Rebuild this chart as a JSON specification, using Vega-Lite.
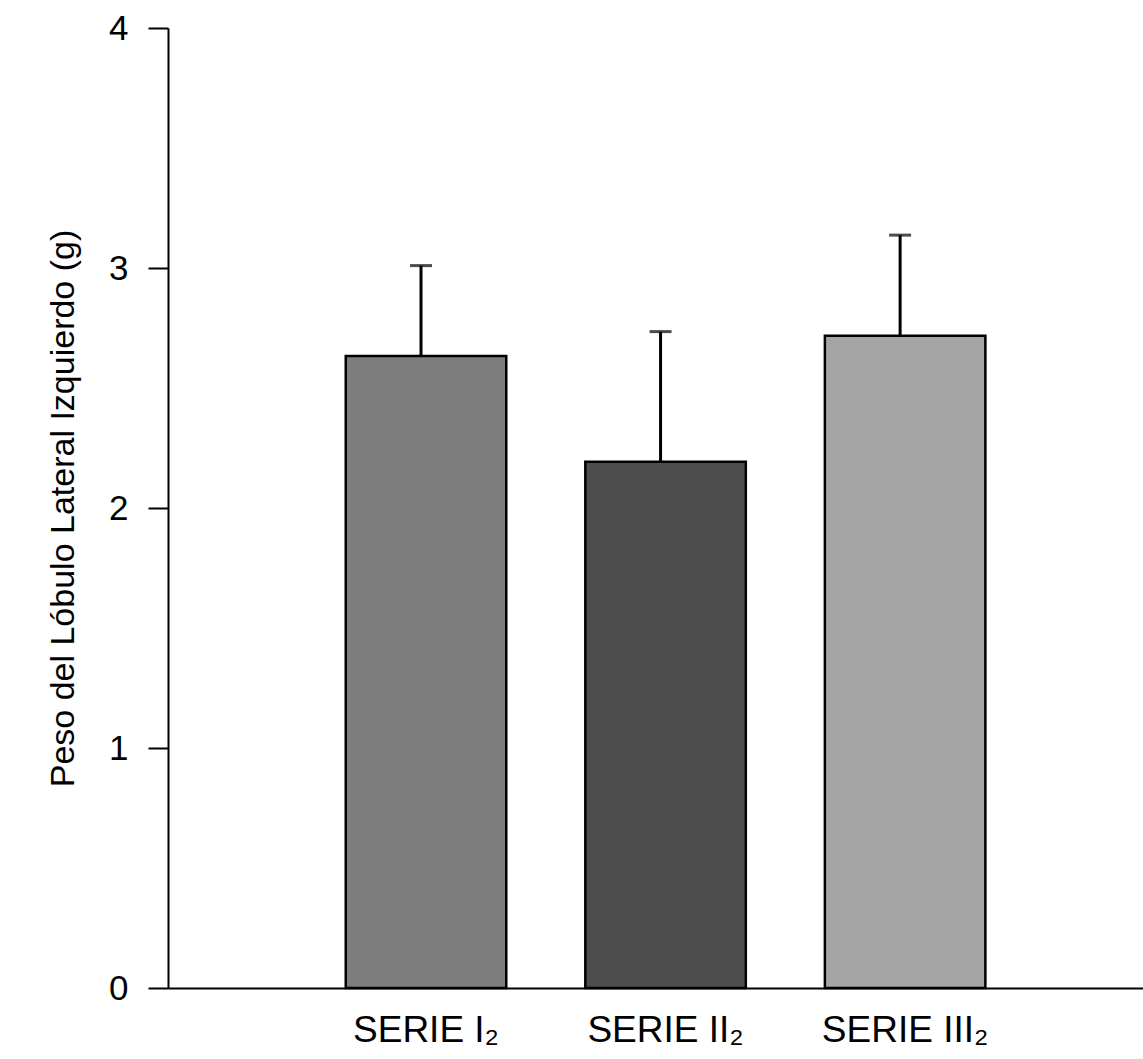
{
  "$schema": "https://vega.github.io/schema/vega-lite/v6.json",
  "width": 975,
  "height": 960,
  "autosize": {"type": "none"},
  "padding": {"left": 168, "top": 28, "right": 0, "bottom": 71},
  "background": "white",
  "config": {
    "view": {"stroke": null},
    "font": "Liberation Sans",
    "axis": {"grid": false, "domainColor": "black", "tickColor": "black", "labelColor": "black", "titleColor": "black", "labelFont": "Liberation Sans", "titleFont": "Liberation Sans", "titleFontWeight": "normal"}
  },
  "data": {
    "values": [
      {"serie": "SERIE I₂", "peso": 2.633, "sup": 3.01},
      {"serie": "SERIE II₂", "peso": 2.193, "sup": 2.735},
      {"serie": "SERIE III₂", "peso": 2.718, "sup": 3.137}
    ]
  },
  "encoding": {
    "x": {
      "field": "serie", "type": "nominal", "sort": null,
      "scale": {"paddingInner": 0.33, "paddingOuter": 0.7, "align": 0.53},
      "axis": {"title": null, "labelAngle": 0, "labelFontSize": 37, "labelPadding": 24, "ticks": false, "domainWidth": 2}
    }
  },
  "layer": [
    {
      "mark": {"type": "rule", "stroke": "black", "strokeWidth": 3, "xOffset": -5},
      "encoding": {
        "y": {"field": "peso", "type": "quantitative"},
        "y2": {"field": "sup"}
      }
    },
    {
      "mark": {"type": "tick", "color": "black", "thickness": 3, "size": 22, "orient": "horizontal", "xOffset": -5},
      "encoding": {
        "y": {"field": "sup", "type": "quantitative"}
      }
    },
    {
      "mark": {"type": "bar", "stroke": "black", "strokeWidth": 2.5},
      "encoding": {
        "y": {
          "field": "peso", "type": "quantitative",
          "scale": {"domain": [0, 4], "nice": false},
          "axis": {"title": "Peso del Lóbulo Lateral Izquierdo (g)", "titleFontSize": 34, "titlePadding": 28, "values": [0, 1, 2, 3, 4], "format": "d", "labelFontSize": 35, "labelPadding": 20, "tickSize": 20, "tickWidth": 2, "domainWidth": 2}
        },
        "fill": {
          "field": "serie", "type": "nominal", "sort": null, "legend": null,
          "scale": {"range": ["#7d7d7d", "#4d4d4d", "#a5a5a5"]}
        }
      }
    }
  ]
}
